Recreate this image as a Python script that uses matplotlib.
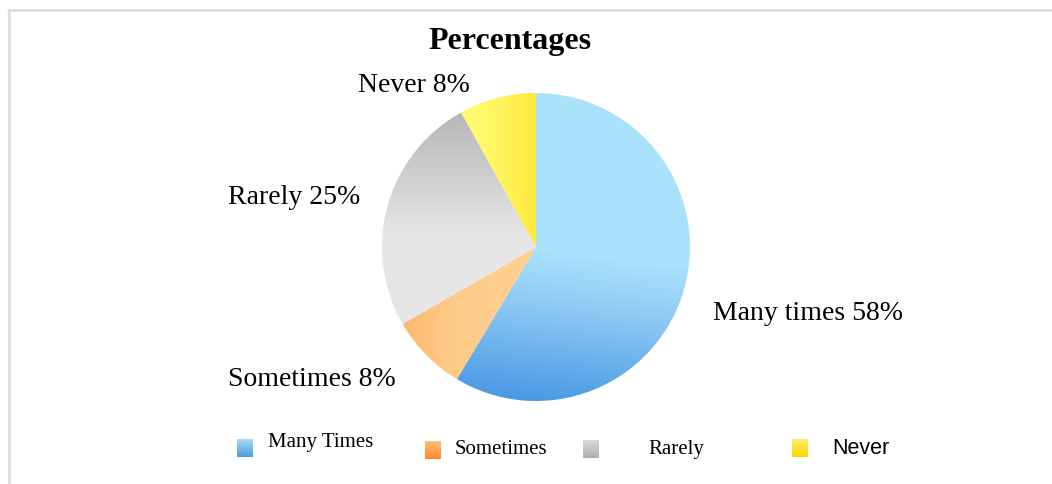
import numpy as np
import matplotlib
matplotlib.use("Agg")
import matplotlib.pyplot as plt
from matplotlib.colors import LinearSegmentedColormap

# Survey answers and their shares (percent)
categories = ["Many times", "Sometimes", "Rarely", "Never"]
legend_labels = ["Many Times", "Sometimes", "Rarely", "Never"]
percentages = [58, 8, 25, 8]

W, H = 1052, 485
SERIF = "Liberation Serif"
SANS = "Liberation Sans"

fig = plt.figure(figsize=(W / 100, H / 100), dpi=100)
ax = fig.add_axes([0, 0, 1, 1])

cx, cy, r = 536, 248, 154          # pie centre / radius in pixels (y from top)


def Y(y):
    """Convert a top-down pixel row to the axes' bottom-up coordinate."""
    return H - y


wedges, _ = ax.pie(percentages, startangle=90, counterclock=False,
                   center=(cx, Y(cy)), radius=r,
                   wedgeprops=dict(linewidth=0, facecolor="none"))
ax.set_xlim(0, W)
ax.set_ylim(0, H)
ax.set_aspect("auto")
ax.axis("off")

# pixel grid for the gradient fills
xs = np.arange(W) + 0.5
ys = np.arange(H) + 0.5
XX, YY = np.meshgrid(xs, ys)


def grad(t, colors):
    cmap = LinearSegmentedColormap.from_list("g", colors)
    return cmap(np.clip(t, 0, 1))


fills = [
    grad((YY - 0.12 * (XX - cx) - 250) / 155,
         [(0, "#aae2fb"), (0.35, "#8fcaf4"), (1, "#4898e4")]),
    grad((XX - 395) / 105, ["#fdb66b", "#fdc986", "#fecf8f"]),
    grad((YY - 112) / 125, ["#b6b6b6", "#e6e6e6"]),
    grad((XX - 470) / 66, ["#fffb72", "#fff45c", "#ffe93c"]),
]

for w, img in zip(wedges, fills):
    im = ax.imshow(img, extent=(0, W, 0, H), origin="upper",
                   interpolation="bilinear", zorder=1)
    im.set_clip_path(w)

# outer frame
ax.plot([7, W], [Y(11), Y(11)], color="#dedede", lw=2.0, solid_capstyle="butt", zorder=0)
ax.plot([9, 9], [Y(11), 0], color="#dedede", lw=2.0, solid_capstyle="butt", zorder=0)

# title
ax.text(510, Y(42), "Percentages", family=SERIF, fontweight="bold",
        fontsize=23, ha="center", va="center")

# slice labels
label_pos = [(713, 314, "left"), (228, 380, "left"),
             (228, 198, "left"), (358, 86, "left")]
for name, pct, (lx, ly, ha) in zip(categories, percentages, label_pos):
    ax.text(lx, Y(ly), f"{name} {pct}%", family=SERIF, fontsize=20,
            ha=ha, va="center")

# legend with gradient swatches
swatch = [("#a9dcf6", "#4a9ae4"), ("#ffbd78", "#fd8a30"),
          ("#dadada", "#aeaeae"), ("#fff266", "#ffd500")]
sw_pos = [(237, 440), (425, 442), (583, 441), (792, 440)]
txt_pos = [(268, 443, SERIF, 15), (455, 450, SERIF, 15),
           (648, 450, SERIF, 15), (832, 449, SANS, 15.5)]
for lab, (c1, c2), (sx, sy), (tx, ty, fam, fs) in zip(legend_labels, swatch, sw_pos, txt_pos):
    g = np.linspace(0, 1, 32)[:, None]
    img = LinearSegmentedColormap.from_list("s", [c1, c2])(np.repeat(g, 4, axis=1))
    ax.imshow(img, extent=(sx, sx + 16, Y(sy + 18), Y(sy)), origin="upper",
              interpolation="bilinear", zorder=2)
    ax.text(tx, Y(ty), lab, family=fam, fontsize=fs, ha="left", va="center")

ax.set_xlim(0, W)
ax.set_ylim(0, H)
fig.savefig("out.png", dpi=100)
